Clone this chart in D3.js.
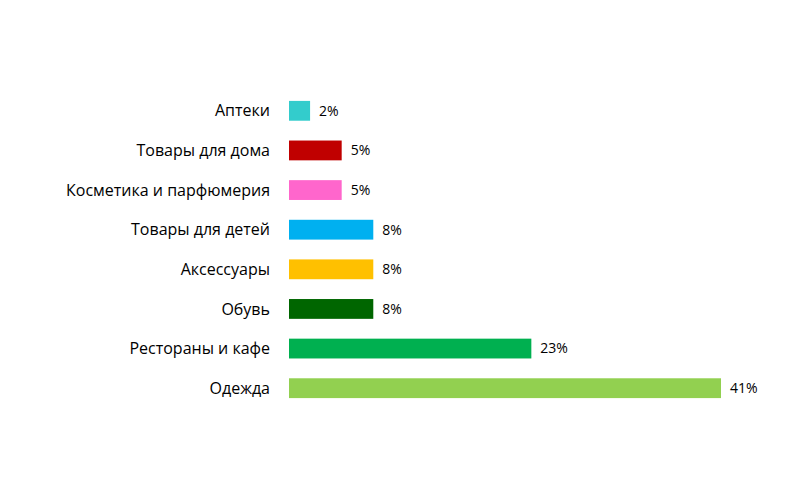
<!DOCTYPE html>
<html>
<head>
<meta charset="utf-8">
<script src="https://cdn.jsdelivr.net/npm/d3@7"></script>
<style>
  body { margin: 0; background: #fff; }
  text { font-family: "Open Sans", "Liberation Sans", sans-serif; fill: #000; }
</style>
</head>
<body>
<svg></svg>
<script>
// chart data
var categories = ["Аптеки", "Товары для дома", "Косметика и парфюмерия", "Товары для детей",
                  "Аксессуары", "Обувь", "Рестораны и кафе", "Одежда"];
var values = [2, 5, 5, 8, 8, 8, 23, 41];
var colors = ["#33CCCC", "#C00000", "#FF66CC", "#00B0F0", "#FFC000", "#006600", "#00B050", "#92D050"];

var svgWidth = 810, svgHeight = 500;

var svg = d3.select("svg")
    .attr("width", svgWidth)
    .attr("height", svgHeight);

var x = d3.scaleLinear().domain([0, 41]).range([289, 721]);
var y = d3.scaleBand().domain(categories).range([91, 408]).paddingInner(0.5).paddingOuter(0.25);

var rows = svg.selectAll(".row")
    .data(categories)
    .enter()
    .append("g")
      .classed("row", true)
      .attr("transform", function(d){ return "translate(0," + y(d) + ")"; });

rows.append("rect")
    .attr("x", x(0))
    .attr("height", y.bandwidth())
    .attr("width", function(d, i){ return x(values[i]) - x(0); })
    .style("fill", function(d, i){ return colors[i]; });

rows.append("text")
    .attr("x", 270)
    .attr("y", y.bandwidth() / 2)
    .attr("dy", "0.35em")
    .attr("text-anchor", "end")
    .style("font-size", "16px")
    .text(function(d){ return d; });

rows.append("text")
    .attr("x", function(d, i){ return x(values[i]) + 9; })
    .attr("y", y.bandwidth() / 2)
    .attr("dy", "0.35em")
    .style("font-size", "14px")
    .text(function(d, i){ return values[i] + "%"; });
</script>
</body>
</html>
